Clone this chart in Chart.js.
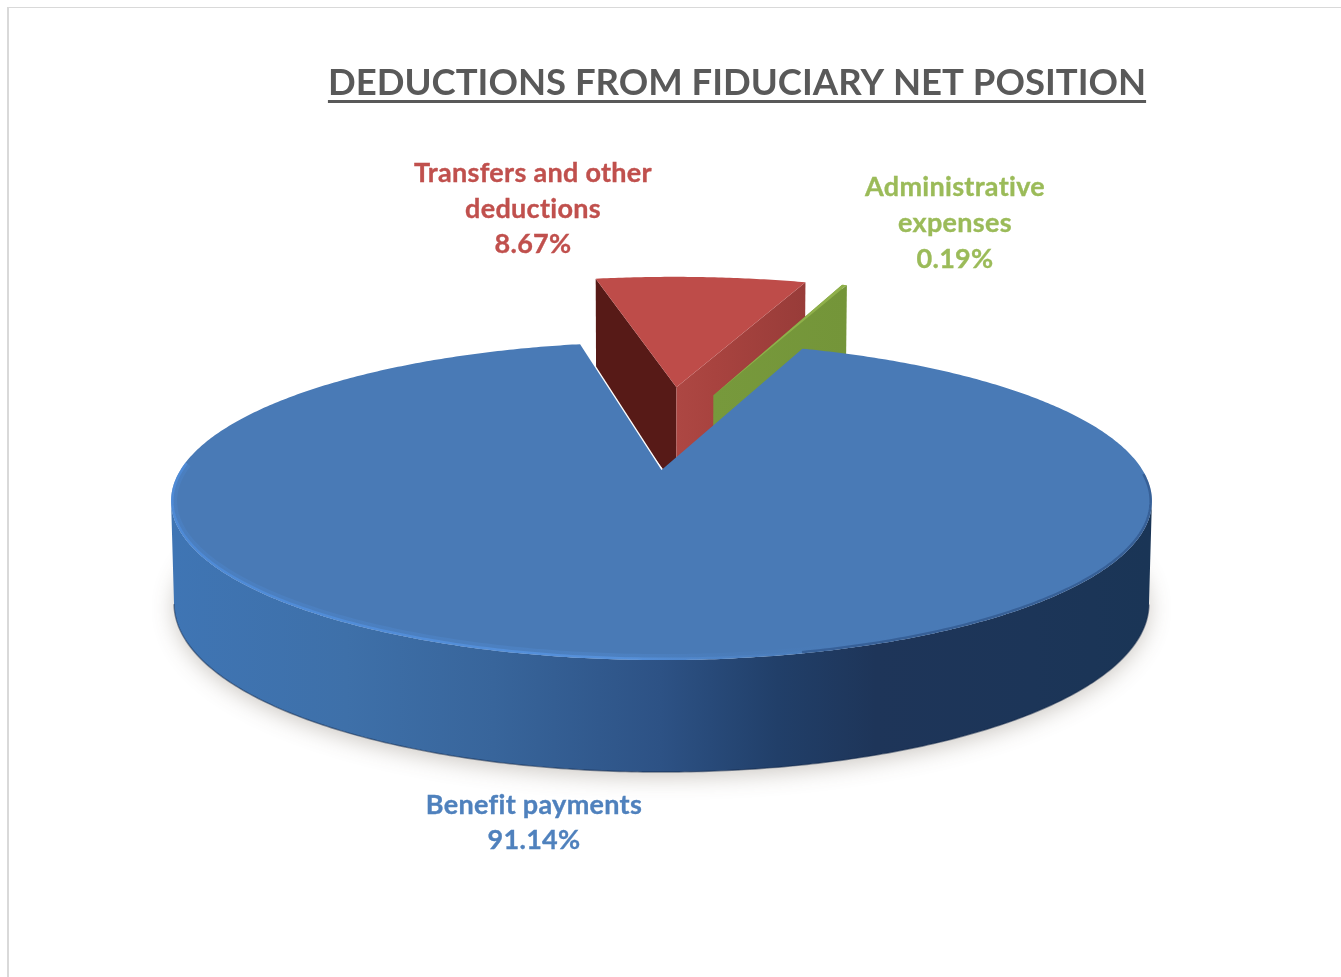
<!DOCTYPE html>
<html>
<head>
<meta charset="utf-8">
<title>Deductions from fiduciary net position</title>
<script src="https://cdn.jsdelivr.net/npm/chart.js@4/dist/chart.umd.js"></script>
<style>
  html, body { margin: 0; padding: 0; background: #fff; width: 1341px; height: 977px; overflow: hidden; }
  #frame { position: absolute; left: 7px; top: 7px; right: 0; bottom: 0; border-left: 2px solid #d9d9d9; border-top: 1px solid #d9d9d9; }
  canvas { position: absolute; left: 0; top: 0; }
</style>
</head>
<body>
<div id="frame"></div>
<canvas id="chart" width="1341" height="977"></canvas>
<script>
// Chart content
const chartTitle = 'DEDUCTIONS FROM FIDUCIARY NET POSITION';
const categories = ['Transfers and other deductions', 'Administrative expenses', 'Benefit payments'];
const values = [8.67, 0.19, 91.14];
const labelLines = [['Transfers and other', 'deductions'], ['Administrative', 'expenses'], ['Benefit payments']];

// Slice colours
const topColors = ['#be4c49', '#8fb04a', '#497ab6'];
const labelColors = ['#c0504d', '#9bbb59', '#4f81bd'];

// Where each label block sits: centre x and the baseline of its first line
const labelAnchors = [
  { x: 533, y: 182, lineHeight: 35.5 },
  { x: 955, y: 196, lineHeight: 36 },
  { x: 534, y: 814, lineHeight: 35 }
];

// How far each slice is pulled out of the disc and how large it is, in disc radii
const sliceShift = [{ u: 0.037, v: -0.605 }, { u: 0.122, v: -0.54 }, { u: 0.002, v: 0 }];
const sliceScale = [1.07, 1.11, 1];

// Perspective view of the disc
const view = { cx: 660.5, cy: 470, rx: 481, ry: 153, tilt: 0.195 };

function project(u, v) {
  const d = 1 - view.tilt * v;
  return { x: view.cx + view.rx * u / d, y: view.cy + view.ry * v / d };
}
function projectBase(u, v) {
  const p = project(u, v);
  return { x: view.cx + (p.x - view.cx) * 0.994, y: p.y + 100 + 12 * Math.max(v, 0) };
}
function tracePath(ctx, pts, close) {
  ctx.beginPath();
  pts.forEach((p, i) => (i ? ctx.lineTo(p.x, p.y) : ctx.moveTo(p.x, p.y)));
  if (close) ctx.closePath();
}
function horizontalGradient(ctx, x0, x1, stops) {
  const g = ctx.createLinearGradient(x0, 0, x1, 0);
  stops.forEach(([t, c]) => g.addColorStop(t, c));
  return g;
}

// A pie slice rendered as a thick wedge seen from above
class Arc3D extends Chart.ArcElement {
  static id = 'arc3d';

  rimSamples(index) {
    const { startAngle, endAngle } = this.getProps(['startAngle', 'endAngle'], true);
    const shift = sliceShift[index], scale = sliceScale[index];
    const steps = Math.max(4, Math.ceil((endAngle - startAngle) / 0.01));
    const out = [];
    for (let i = 0; i <= steps; i++) {
      const a = startAngle + (endAngle - startAngle) * i / steps;
      const u = shift.u + scale * Math.cos(a), v = shift.v + scale * Math.sin(a);
      out.push({ a, u, v, top: project(u, v), base: projectBase(u, v) });
    }
    return out;
  }

  castShadow(ctx, index) {
    const rim = this.rimSamples(index);
    ctx.save();
    ctx.shadowColor = 'rgba(90,75,60,0.3)';
    ctx.shadowBlur = 22;
    ctx.shadowOffsetY = 5;
    ctx.fillStyle = '#fff';
    tracePath(ctx, rim.map(s => s.base), true);
    ctx.fill();
    ctx.restore();
  }

  cutWall(ctx, s, fill, shift) {
    const a = project(shift.u, shift.v), b = projectBase(shift.u, shift.v);
    ctx.fillStyle = fill;
    tracePath(ctx, [a, s.top, s.base, b], true);
    ctx.fill();
  }

  paint(ctx, index) {
    const rim = this.rimSamples(index);
    const shift = sliceShift[index];
    const first = rim[0], last = rim[rim.length - 1];
    const apex = project(shift.u, shift.v);
    const topFace = [apex, ...rim.map(s => s.top)];

    if (index === 0) {
      // Transfers wedge: shaded cut faces either side of the tip
      this.cutWall(ctx, first, '#571a17', shift);
      const g = horizontalGradient(ctx, apex.x, last.top.x, [[0, '#ad4743'], [0.3, '#a8433f'], [1, '#983c39']]);
      this.cutWall(ctx, last, g, shift);
    } else if (index === 1) {
      // Administrative sliver: only the face turned to the viewer shows
      const g = horizontalGradient(ctx, apex.x, last.top.x, [[0, '#77993c'], [1, '#749539']]);
      this.cutWall(ctx, first, g, shift);
      this.cutWall(ctx, last, g, shift);
    } else {
      // Benefit payments: white seam along the cut, then the curved outer wall
      ctx.save();
      ctx.strokeStyle = '#fff';
      ctx.lineWidth = 2.6;
      ctx.beginPath();
      ctx.moveTo(last.top.x, last.top.y);
      ctx.lineTo(apex.x, apex.y);
      ctx.stroke();
      ctx.restore();

      const wall = horizontalGradient(ctx, 170, 1150, [
        [0, '#3f75b4'], [0.18, '#3e70a9'], [0.33, '#38659b'], [0.5, '#2d5285'],
        [0.62, '#213f69'], [0.72, '#1e3559'], [0.88, '#1c3558'], [1, '#1a3556']
      ]);
      // The visible wall runs between the two widest points of the disc
      const near = rim.filter(s => s.v > view.tilt);
      ctx.save();
      ctx.fillStyle = wall;
      tracePath(ctx, [...near.map(s => s.top), ...near.slice().reverse().map(s => s.base)], true);
      ctx.fill();
      // Darker lower lip of the wall
      tracePath(ctx, near.map(s => s.base), false);
      ctx.strokeStyle = 'rgba(18,38,70,0.5)';
      ctx.lineWidth = 1.4;
      ctx.stroke();
      ctx.restore();
    }

    ctx.fillStyle = topColors[index];
    tracePath(ctx, topFace, true);
    ctx.fill();

    if (index === 2) {
      // Bevel highlight inside the near-left edge of the top face
      const lit = rim.filter(s => s.v > -0.05 && s.top.x < 960);
      const glow = alpha => horizontalGradient(ctx, 170, 960, [
        [0, `rgba(80,145,228,${alpha})`], [0.58, `rgba(92,155,235,${alpha})`],
        [0.78, `rgba(80,135,205,${alpha * 0.35})`], [1, 'rgba(70,120,190,0)']
      ]);
      ctx.save();
      tracePath(ctx, topFace, true);
      ctx.clip();
      tracePath(ctx, lit.map(s => s.top), false);
      ctx.strokeStyle = glow(0.2);
      ctx.lineWidth = 12;
      ctx.stroke();
      ctx.strokeStyle = glow(0.6);
      ctx.lineWidth = 5;
      ctx.stroke();
      // Soft transition into the dark wall on the right
      const shaded = rim.filter(s => s.v > 0.02 && s.top.x > 800);
      tracePath(ctx, shaded.map(s => s.top), false);
      ctx.strokeStyle = 'rgba(40,75,125,0.55)';
      ctx.lineWidth = 5;
      ctx.stroke();
      ctx.restore();
    }
  }
}

class Pie3DController extends Chart.PieController {
  static id = 'pie3d';
  static defaults = { dataElementType: 'arc3d' };

  draw() {
    const ctx = this.chart.ctx;
    const arcs = this.getMeta().data;
    arcs[2].castShadow(ctx, 2);
    arcs.forEach((arc, i) => arc.paint(ctx, i));
  }
}

Chart.register(Arc3D, Pie3DController);

// Underlines the chart title, which the title block cannot do by itself
const titleUnderline = {
  id: 'titleUnderline',
  afterDraw(chart) {
    const { ctx, titleBlock } = chart;
    const font = titleBlock.options.font;
    ctx.save();
    ctx.font = `${font.weight} ${font.size}px ${font.family}`;
    const w = ctx.measureText(chartTitle).width;
    const mid = (titleBlock.left + titleBlock.right) / 2;
    ctx.fillStyle = '#595959';
    ctx.fillRect(mid - w / 2, 100, w, 3);
    ctx.restore();
  }
};

// Category name and percentage beside each slice
const sliceLabels = {
  id: 'sliceLabels',
  afterDraw(chart) {
    const { ctx } = chart;
    ctx.save();
    ctx.font = 'bold 27px Lato';
    ctx.letterSpacing = '0.3px';
    ctx.textAlign = 'center';
    ctx.textBaseline = 'alphabetic';
    ctx.lineWidth = 0.35;
    labelLines.forEach((lines, i) => {
      const a = labelAnchors[i];
      ctx.fillStyle = labelColors[i];
      ctx.strokeStyle = labelColors[i];
      [...lines, values[i].toFixed(2) + '%'].forEach((line, k) => {
        ctx.fillText(line, a.x, a.y + k * a.lineHeight);
        ctx.strokeText(line, a.x, a.y + k * a.lineHeight);
      });
    });
    ctx.restore();
  }
};

new Chart(document.getElementById('chart'), {
  type: 'pie3d',
  data: {
    labels: categories,
    datasets: [{ data: values, backgroundColor: topColors, borderWidth: 0 }]
  },
  options: {
    responsive: false,
    animation: false,
    events: [],
    rotation: -11.6,
    layout: { padding: { left: 133 } },
    plugins: {
      legend: { display: false },
      tooltip: { enabled: false },
      title: {
        display: true,
        text: chartTitle,
        color: '#595959',
        align: 'center',
        font: { family: 'Lato', size: 36.5, weight: 'bold' },
        padding: { top: 61, bottom: 10 }
      }
    }
  },
  plugins: [titleUnderline, sliceLabels]
});
</script>
</body>
</html>
